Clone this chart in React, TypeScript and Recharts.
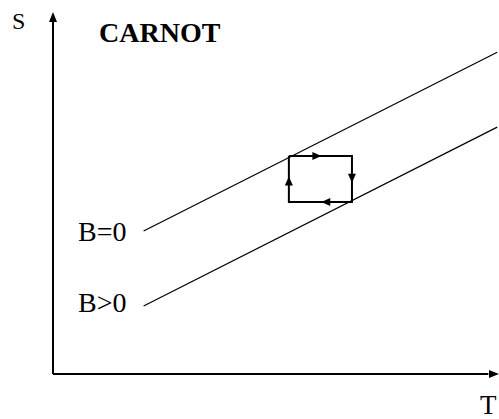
import { ComposedChart, Line, Scatter, XAxis, YAxis } from 'recharts';

// diagram in arbitrary T/S units, plot area 0..100 on both axes
const yAxisLine = [{ T: 0, S: 0 }, { T: 0, S: 97.5 }];
const xAxisLine = [{ T: 0, S: 0 }, { T: 98, S: 0 }];
const lineB0 = [{ T: 20.4, S: 39.5 }, { T: 100, S: 88.9 }];
const lineBpos = [{ T: 20.4, S: 18.8 }, { T: 100, S: 68.2 }];
const cycle = [
  { T: 53.1, S: 60.2 },
  { T: 67.3, S: 60.2 },
  { T: 67.3, S: 47.5 },
  { T: 53.1, S: 47.5 },
  { T: 53.1, S: 60.2 },
];
const axisArrows = [
  { T: 0, S: 100, dir: 'up' },
  { T: 100.4, S: 0, dir: 'right' },
];
const cycleArrows = [
  { T: 59.4, S: 60.2, dir: 'right' },
  { T: 67.3, S: 54.1, dir: 'down' },
  { T: 61.4, S: 47.5, dir: 'left' },
  { T: 53.1, S: 53.3, dir: 'up' },
];

const serif = 'Liberation Serif';

// tip = true: the point is the arrow tip, otherwise the arrow centre
const arrowShape = (len: number, half: number, tip: boolean) => (props: any) => {
  const { cx, cy, payload } = props;
  const d = payload.dir;
  const o = tip ? 0 : len / 2;
  let pts = '';
  if (d === 'up') {
    const t = cy - o;
    pts = `${cx},${t} ${cx - half},${t + len} ${cx + half},${t + len}`;
  } else if (d === 'down') {
    const t = cy + o;
    pts = `${cx},${t} ${cx - half},${t - len} ${cx + half},${t - len}`;
  } else if (d === 'right') {
    const t = cx + o;
    pts = `${t},${cy} ${t - len},${cy - half} ${t - len},${cy + half}`;
  } else {
    const t = cx - o;
    pts = `${t},${cy} ${t + len},${cy - half} ${t + len},${cy + half}`;
  }
  return <polygon points={pts} fill="#000" />;
};

export default function App() {
  return (
    <div style={{ position: 'absolute', left: 0, top: 0, width: 499, height: 419, background: '#fff' }}>
      <ComposedChart width={499} height={419} margin={{ top: 12, right: 0, bottom: 45, left: 53 }}>
        <XAxis type="number" dataKey="T" domain={[0, 100]} hide />
        <YAxis type="number" dataKey="S" domain={[0, 100]} hide />
        <Line data={yAxisLine} dataKey="S" stroke="#000" strokeWidth={2} dot={false} isAnimationActive={false} />
        <Line data={xAxisLine} dataKey="S" stroke="#000" strokeWidth={2} dot={false} isAnimationActive={false} />
        <Line data={lineB0} dataKey="S" stroke="#000" strokeWidth={1.2} dot={false} isAnimationActive={false} />
        <Line data={lineBpos} dataKey="S" stroke="#000" strokeWidth={1.2} dot={false} isAnimationActive={false} />
        <Line data={cycle} dataKey="S" stroke="#000" strokeWidth={2} dot={false} strokeLinejoin="miter" isAnimationActive={false} />
        <Scatter data={axisArrows} dataKey="S" shape={arrowShape(10, 4, true)} isAnimationActive={false} />
        <Scatter data={cycleArrows} dataKey="S" shape={arrowShape(9, 4, false)} isAnimationActive={false} />
        <text x={12} y={29} fontFamily={serif} fontSize={24} fill="#000">S</text>
        <text x={99} y={42} fontFamily={serif} fontSize={28} fontWeight="bold" fill="#000">CARNOT</text>
        <text x={480} y={414} fontFamily={serif} fontSize={27} fill="#000">T</text>
        <text x={78} y={241} fontFamily={serif} fontSize={28} fill="#000">B=0</text>
        <text x={78} y={312} fontFamily={serif} fontSize={28} fill="#000">B&gt;0</text>
      </ComposedChart>
    </div>
  );
}
